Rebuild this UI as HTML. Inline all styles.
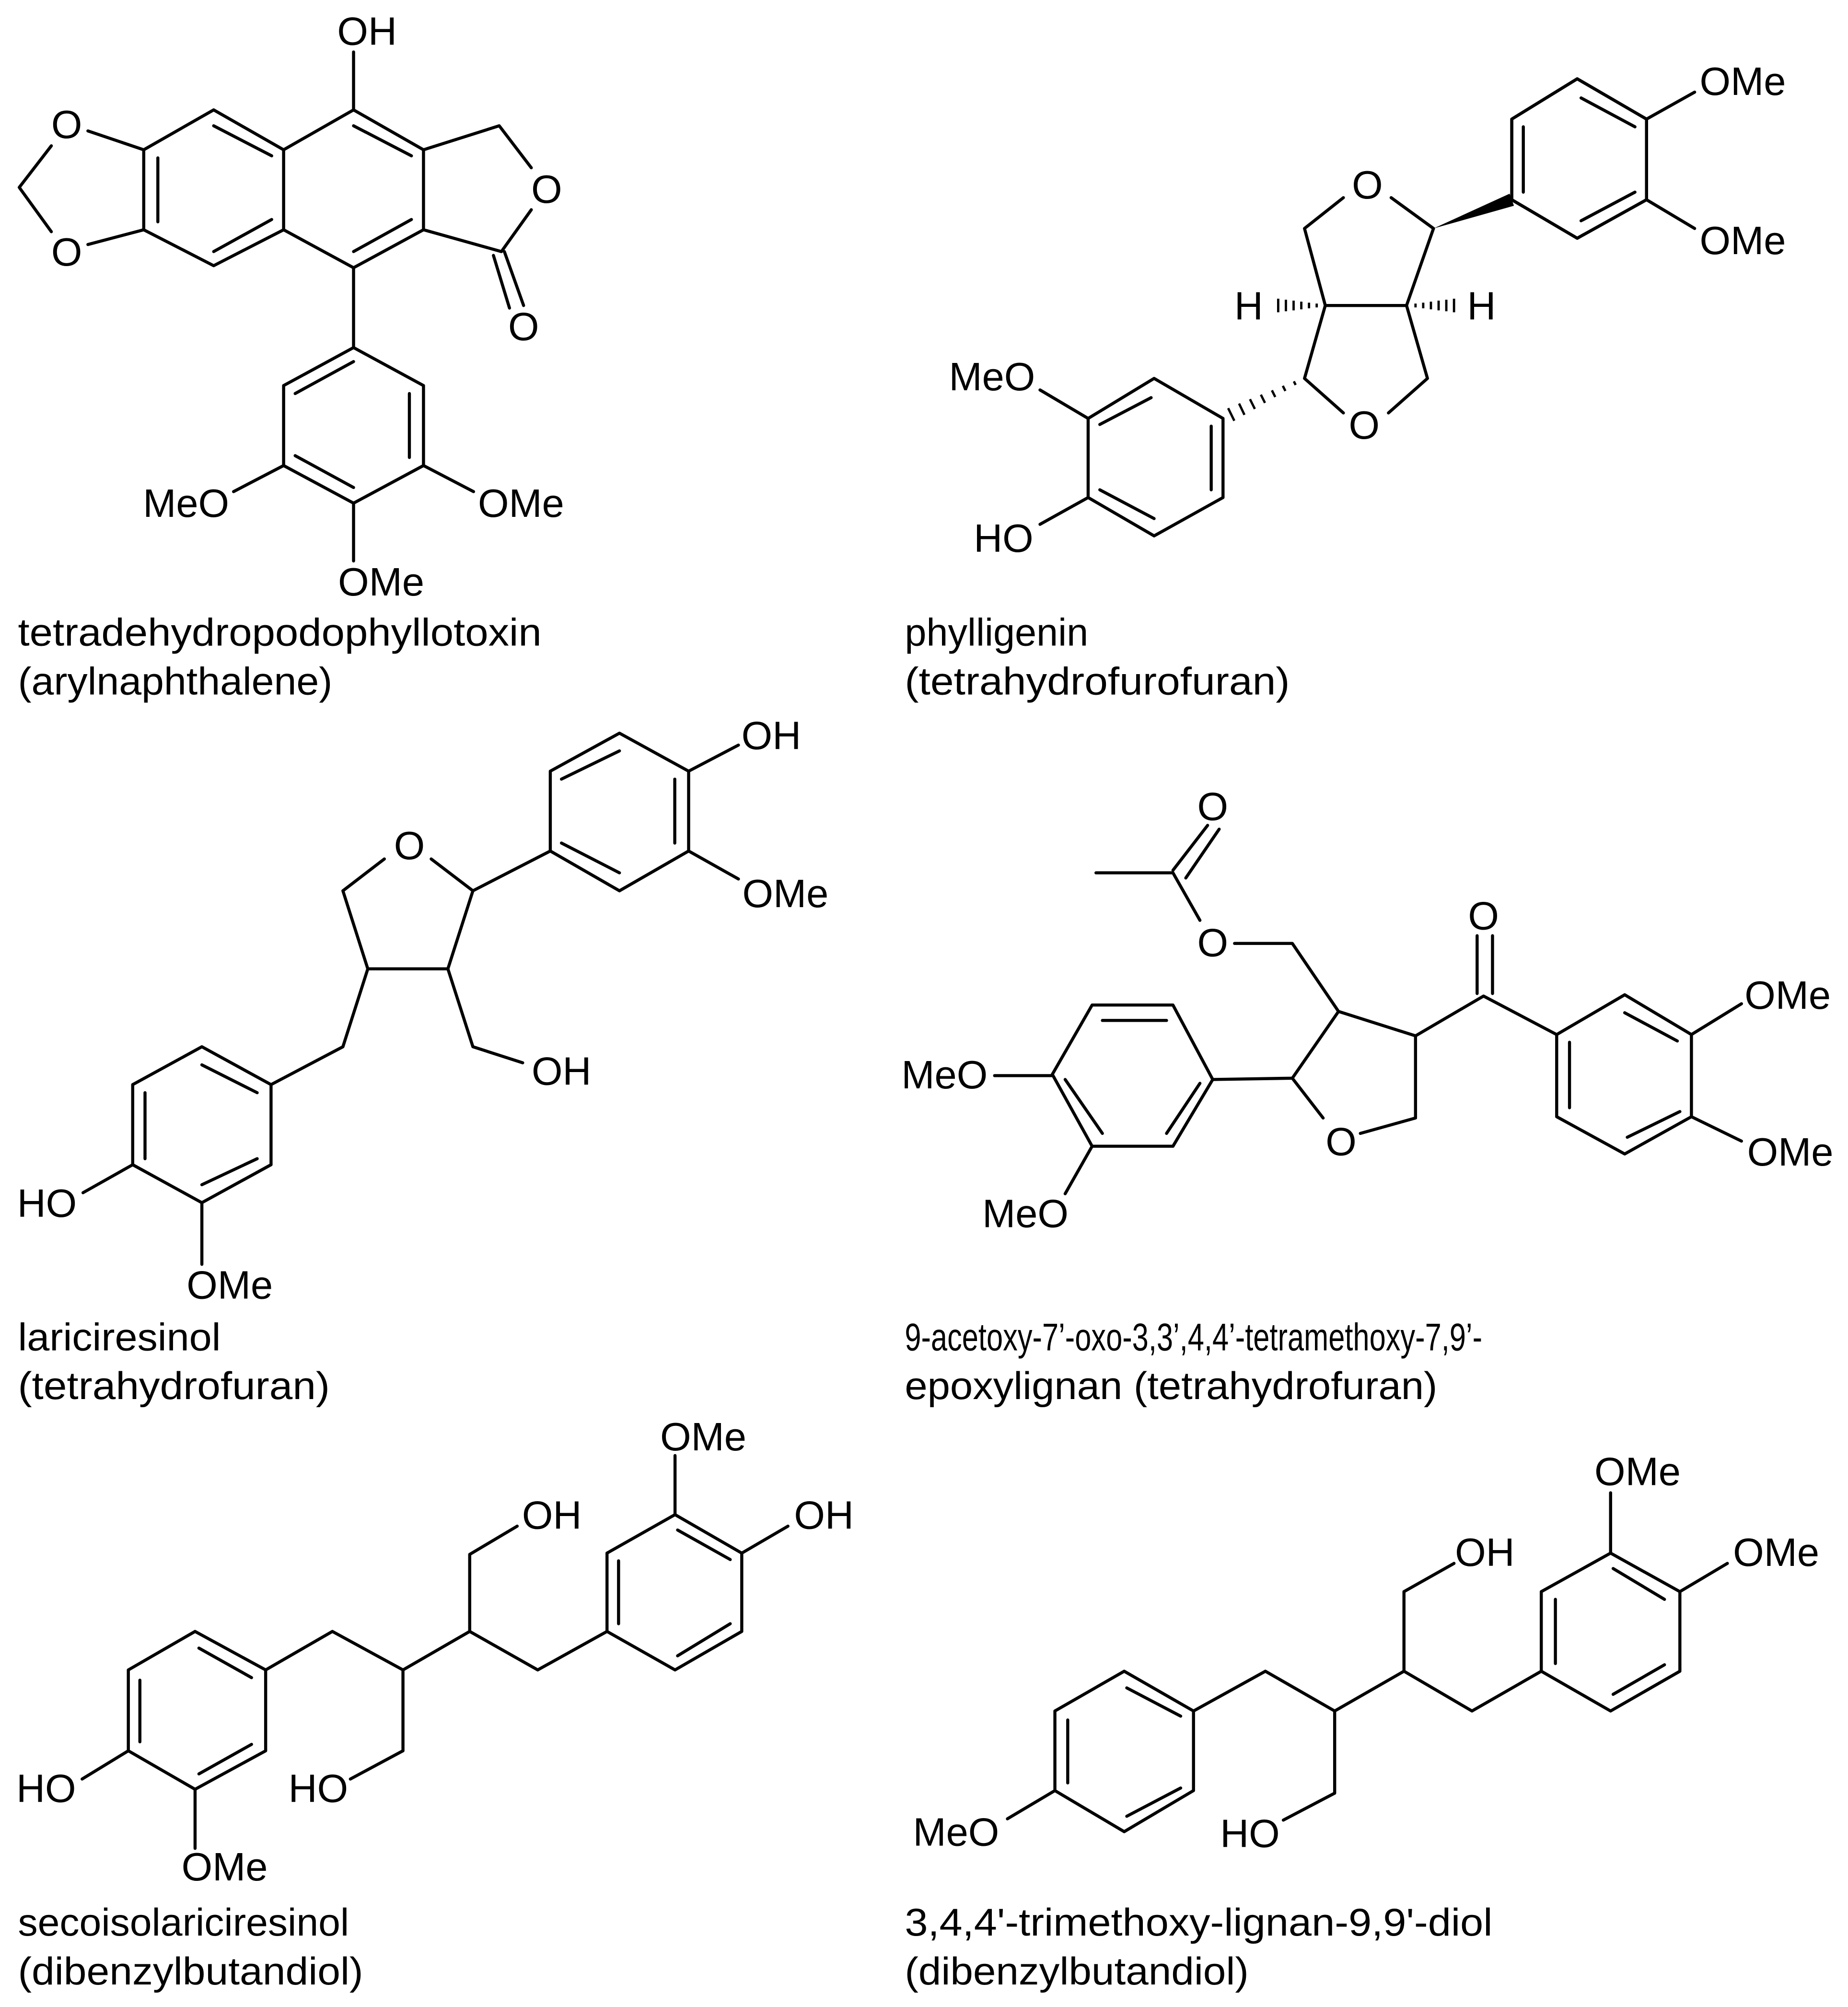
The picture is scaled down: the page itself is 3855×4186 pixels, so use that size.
<!DOCTYPE html>
<html><head><meta charset="utf-8"><style>
html,body{margin:0;padding:0;background:#fff;}
svg{display:block;}
.b line,.b polyline,.b polygon{stroke:#000;stroke-width:2.4;fill:none;stroke-linecap:round;stroke-linejoin:round;}
.l{font-family:"Liberation Sans",Arial,sans-serif;font-size:31px;text-anchor:middle;fill:#000;}
.c{font-family:"Liberation Sans",Arial,sans-serif;font-size:30px;fill:#000;}
</style></head><body>
<svg width="3855" height="4186" viewBox="0 0 1440 1563.6" preserveAspectRatio="none" xmlns="http://www.w3.org/2000/svg">
<rect width="1440" height="1564" fill="#fff"/>
<g class="b">
<!-- Molecule 1 -->
<polygon points="275.5,85.6 330,116.7 330,179 275.5,208.6 221,179 221,116.7"/>
<polyline points="221,116.7 166.5,85.6 112,116.7 112,179 166.5,207 221,179"/>
<line x1="166.5" y1="98" x2="211.7" y2="121.4"/>
<line x1="123" y1="123" x2="123" y2="172.8"/>
<line x1="166.5" y1="196" x2="211.7" y2="171"/>
<line x1="275.5" y1="98" x2="320.6" y2="121.4"/>
<line x1="275.5" y1="196" x2="320.6" y2="171"/>
<line x1="275.5" y1="85.6" x2="275.5" y2="40.5"/>
<line x1="112" y1="116.7" x2="68.5" y2="102"/>
<polyline points="40,113.6 15,146 40,180.5"/>
<line x1="112" y1="179" x2="68.5" y2="190.5"/>
<polyline points="330,116.7 389,98 414,130.7"/>
<polyline points="414,163.4 390.7,196 330,179"/>
<line x1="384.5" y1="199" x2="397" y2="240"/>
<line x1="393" y1="196" x2="408" y2="238"/>
<line x1="275.5" y1="208.6" x2="275.5" y2="270.8"/>
<polygon points="275.5,270.8 330,300.4 330,362.7 275.5,392 221,362.7 221,300.4"/>
<line x1="230" y1="306.6" x2="275.5" y2="281.7"/>
<line x1="319" y1="306.6" x2="319" y2="356.4"/>
<line x1="230" y1="355" x2="275.5" y2="379.8"/>
<line x1="221" y1="362.7" x2="182" y2="383"/>
<line x1="330" y1="362.7" x2="369" y2="383"/>
<line x1="275.5" y1="392" x2="275.5" y2="437"/>

<!-- Molecule 2 -->
<polygon points="1178,155.6 1178,92.8 1229,61.4 1283,92.8 1283,155.6 1229,185.6"/>
<line x1="1187" y1="98.8" x2="1187" y2="149.7"/>
<line x1="1232" y1="76.3" x2="1274" y2="98.8"/>
<line x1="1232" y1="172" x2="1274" y2="149.7"/>
<line x1="1283" y1="92.8" x2="1320.5" y2="71.8"/>
<line x1="1283" y1="155.6" x2="1320.5" y2="178"/>
<line x1="1084" y1="154" x2="1117" y2="178"/>
<polyline points="1046.8,154 1016.5,178 1032.7,238 1096,238 1117,178"/>
<polyline points="1046.8,321.7 1016.5,294.8 1032.7,238"/>
<polyline points="1081.9,321.7 1112.3,294.8 1096,238"/>
<polygon points="1178,155.6 1178,92.8 1229,61.4 1283,92.8 1283,155.6 1229,185.6"/>
<polygon points="953,326 899.3,294.8 847.9,326 847.9,387.6 899.3,417.5 953,387.6"/>
<line x1="857" y1="330.7" x2="897" y2="309.8"/>
<line x1="943.8" y1="332" x2="943.8" y2="381.6"/>
<line x1="857" y1="381.6" x2="899.3" y2="404"/>
<line x1="847.9" y1="326" x2="810.4" y2="303.8"/>
<line x1="847.9" y1="387.6" x2="810.4" y2="408.5"/>

<!-- Molecule 3 -->
<polygon points="428.8,663 428.8,600.8 482.7,571.2 536.6,600.8 536.6,663 482.7,694"/>
<line x1="437.5" y1="607" x2="482.7" y2="585"/>
<line x1="525.8" y1="607" x2="525.8" y2="656.8"/>
<line x1="437.5" y1="656.8" x2="482.7" y2="680"/>
<line x1="536.6" y1="600.8" x2="575.4" y2="580.5"/>
<line x1="536.6" y1="663" x2="575.4" y2="684.8"/>
<line x1="368.5" y1="694" x2="428.8" y2="663"/>
<polyline points="336,669.2 368.5,694 349,754.8 286.6,754.8 267.2,694 299.5,669.2"/>
<polyline points="349,754.8 368.5,815.5 407.3,828"/>
<polyline points="286.6,754.8 267.2,815.5 211.2,845"/>
<polygon points="211.2,845 157.3,815.5 103.4,845 103.4,907.4 157.3,937 211.2,907.4"/>
<line x1="157.3" y1="829.6" x2="200.4" y2="851.3"/>
<line x1="113" y1="851.3" x2="113" y2="902.7"/>
<line x1="157.3" y1="923" x2="200.4" y2="902.7"/>
<line x1="103.4" y1="907.4" x2="64.7" y2="929.2"/>
<line x1="157.3" y1="937" x2="157.3" y2="985"/>

<!-- Molecule 4 -->
<polyline points="854,680 914,680 935,717"/>
<line x1="914" y1="678" x2="941" y2="643"/>
<line x1="924" y1="684" x2="950" y2="646"/>
<polyline points="962,735 1007,735 1043,788 1103,807 1103,871 1060,883"/>
<polyline points="1031,871 1007,840 1043,788"/>
<line x1="1007" y1="840" x2="945" y2="841"/>
<polygon points="945,841 914,783 851,783 820,837 851,893 914,893"/>
<line x1="859" y1="795" x2="909" y2="795"/>
<line x1="830" y1="841" x2="859" y2="883"/>
<line x1="909" y1="883" x2="935" y2="844"/>
<line x1="775" y1="838" x2="820" y2="838"/>
<line x1="851" y1="893" x2="830" y2="930"/>
<polyline points="1103,807 1156,776 1213,806"/>
<line x1="1151" y1="729" x2="1151" y2="774"/>
<line x1="1163" y1="729" x2="1163" y2="774"/>
<polygon points="1213,806 1266,775 1318,806 1318,870 1266,899 1213,870"/>
<line x1="1266" y1="789" x2="1307" y2="811"/>
<line x1="1223" y1="812" x2="1223" y2="863"/>
<line x1="1268" y1="886" x2="1309" y2="866"/>
<line x1="1318" y1="806" x2="1357" y2="782"/>
<line x1="1318" y1="870" x2="1357" y2="889"/>

<!-- Molecule 5 -->
<polygon points="152,1271 207,1301 207,1364 152,1394 100,1364 100,1301"/>
<line x1="155" y1="1284" x2="196" y2="1307"/>
<line x1="109" y1="1309" x2="109" y2="1357"/>
<line x1="155" y1="1382" x2="196" y2="1359"/>
<line x1="100" y1="1364" x2="64" y2="1386"/>
<line x1="152" y1="1394" x2="152" y2="1440"/>
<polyline points="207,1301 259,1271 314,1301 366,1271 419,1301 473,1271"/>
<polyline points="314,1301 314,1364 273,1386"/>
<polyline points="366,1271 366,1211 403,1189"/>
<polygon points="473,1271 473,1210 526,1180 578,1210 578,1271 526,1301"/>
<line x1="482" y1="1216" x2="482" y2="1265"/>
<line x1="528" y1="1192" x2="569" y2="1215"/>
<line x1="528" y1="1290" x2="569" y2="1265"/>
<line x1="526" y1="1180" x2="526" y2="1134"/>
<line x1="578" y1="1210" x2="614" y2="1189"/>

<!-- Molecule 6 -->
<polygon points="876,1302 930,1333 930,1395 876,1427 822,1395 822,1333"/>
<line x1="878" y1="1315" x2="920" y2="1337"/>
<line x1="832" y1="1340" x2="832" y2="1389"/>
<line x1="878" y1="1415" x2="920" y2="1393"/>
<line x1="822" y1="1395" x2="785" y2="1417"/>
<polyline points="930,1333 986,1302 1040,1333 1094,1302 1147,1333 1201,1302"/>
<polyline points="1040,1333 1040,1397 1000,1418"/>
<polyline points="1094,1302 1094,1240 1133,1218"/>
<polygon points="1201,1302 1201,1240 1255,1210 1309,1240 1309,1302 1255,1333"/>
<line x1="1212" y1="1246" x2="1212" y2="1296"/>
<line x1="1257" y1="1222" x2="1297" y2="1246"/>
<line x1="1257" y1="1320" x2="1297" y2="1297"/>
<line x1="1255" y1="1210" x2="1255" y2="1163"/>
<line x1="1309" y1="1240" x2="1346" y2="1218"/>
</g>
<!-- stereo bonds molecule 2 -->
<polygon points="1117,178 1179.7,160.3 1176.3,150.9" fill="#000"/>
<g stroke="#000" stroke-width="1.8">
<line x1="1026" y1="236.5" x2="1026" y2="239.5"/>
<line x1="1020" y1="235.8" x2="1020" y2="240.2"/>
<line x1="1014" y1="235" x2="1014" y2="241"/>
<line x1="1008" y1="234.2" x2="1008" y2="241.8"/>
<line x1="1002" y1="233.5" x2="1002" y2="242.5"/>
<line x1="996" y1="232.7" x2="996" y2="243.3"/>
<line x1="1103" y1="236.5" x2="1103" y2="239.5"/>
<line x1="1109" y1="235.8" x2="1109" y2="240.2"/>
<line x1="1115" y1="235" x2="1115" y2="241"/>
<line x1="1121" y1="234.2" x2="1121" y2="241.8"/>
<line x1="1127" y1="233.5" x2="1127" y2="242.5"/>
<line x1="1133" y1="232.7" x2="1133" y2="243.3"/>
<line x1="1008.2" y1="297.1" x2="1009.6" y2="299.9"/>
<line x1="999.6" y1="300.6" x2="1001.6" y2="304.6"/>
<line x1="991.1" y1="304.1" x2="993.7" y2="309.3"/>
<line x1="982.5" y1="307.5" x2="985.7" y2="313.9"/>
<line x1="974" y1="311" x2="977.8" y2="318.6"/>
<line x1="965.5" y1="314.4" x2="969.7" y2="323.2"/>
<line x1="957" y1="318" x2="961.8" y2="327.8"/>
</g>
<!-- atom labels -->
<g class="l">
<text x="286" y="35">OH</text>
<text x="52" y="107.5">O</text>
<text x="52" y="207">O</text>
<text x="426" y="158">O</text>
<text x="408" y="265">O</text>
<text x="145" y="402.6">MeO</text>
<text x="406" y="402.6">OMe</text>
<text x="297" y="464">OMe</text>

<text x="1358" y="74">OMe</text>
<text x="1358" y="198">OMe</text>
<text x="1065.5" y="154.7">O</text>
<text x="1063" y="341.7">O</text>
<text x="973" y="249">H</text>
<text x="1154.4" y="249">H</text>
<text x="773" y="304">MeO</text>
<text x="782" y="430">HO</text>

<text x="601" y="583.7">OH</text>
<text x="612" y="706.7">OMe</text>
<text x="319" y="669.3">O</text>
<text x="437.5" y="845.2">OH</text>
<text x="36.6" y="948">HO</text>
<text x="179" y="1011.8">OMe</text>

<text x="945" y="639">O</text>
<text x="945" y="745">O</text>
<text x="1045" y="900">O</text>
<text x="1156" y="724">O</text>
<text x="736" y="848">MeO</text>
<text x="799" y="956">MeO</text>
<text x="1393" y="786">OMe</text>
<text x="1395" y="908">OMe</text>

<text x="36" y="1404">HO</text>
<text x="175" y="1465">OMe</text>
<text x="248" y="1404">HO</text>
<text x="430" y="1191">OH</text>
<text x="548" y="1130">OMe</text>
<text x="642" y="1191">OH</text>

<text x="745" y="1438">MeO</text>
<text x="974" y="1439">HO</text>
<text x="1157" y="1220">OH</text>
<text x="1276" y="1157">OMe</text>
<text x="1384" y="1220">OMe</text>
</g>
<!-- captions -->
<g class="c">
<text x="14" y="503" textLength="408" lengthAdjust="spacingAndGlyphs">tetradehydropodophyllotoxin</text>
<text x="14" y="541" textLength="245" lengthAdjust="spacingAndGlyphs">(arylnaphthalene)</text>
<text x="705" y="503" textLength="143" lengthAdjust="spacingAndGlyphs">phylligenin</text>
<text x="705" y="541" textLength="300" lengthAdjust="spacingAndGlyphs">(tetrahydrofurofuran)</text>
<text x="14" y="1052" textLength="158" lengthAdjust="spacingAndGlyphs">lariciresinol</text>
<text x="14" y="1090" textLength="243" lengthAdjust="spacingAndGlyphs">(tetrahydrofuran)</text>
<text x="705" y="1052" textLength="450" lengthAdjust="spacingAndGlyphs">9-acetoxy-7’-oxo-3,3’,4,4’-tetramethoxy-7,9’-</text>
<text x="705" y="1090" textLength="415" lengthAdjust="spacingAndGlyphs">epoxylignan (tetrahydrofuran)</text>
<text x="14" y="1508" textLength="258" lengthAdjust="spacingAndGlyphs">secoisolariciresinol</text>
<text x="14" y="1546" textLength="269" lengthAdjust="spacingAndGlyphs">(dibenzylbutandiol)</text>
<text x="705" y="1508" textLength="458" lengthAdjust="spacingAndGlyphs">3,4,4'-trimethoxy-lignan-9,9'-diol</text>
<text x="705" y="1546" textLength="268" lengthAdjust="spacingAndGlyphs">(dibenzylbutandiol)</text>
</g>
</svg>
</body></html>
